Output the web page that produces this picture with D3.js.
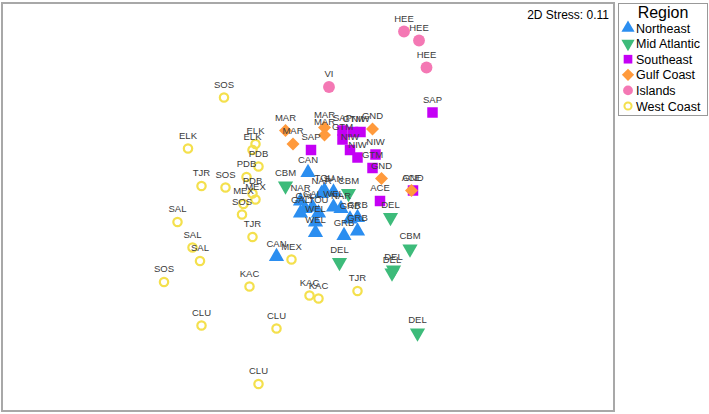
<!DOCTYPE html>
<html lang="en">
<head>
  <meta charset="UTF-8">
  <title>NMDS by Region</title>
  <script src="https://d3js.org/d3.v7.min.js"></script>
  <style>
    body { margin: 0; background: #fff; }
    text { font-family: "Liberation Sans", Arial, sans-serif; }
    .site-label { font-size: 9.5px; fill: #3a3a3a; }
  </style>
</head>
<body>
  <svg width="709" height="414"></svg>

  <script>
    // NMDS site scores, one array per region: [NMDS1, NMDS2, site]
    const northeast = [
      [0.00, 0.23, "CAN"], [-0.21, -0.33, "CAN"], [0.11, 0.11, "TOU"], [0.09, 0.09, "NAR"],
      [0.17, 0.10, "SAN"], [-0.05, 0.04, "NAR"], [-0.02, -0.01, "GAL"], [-0.05, -0.04, "GAL"],
      [0.03, 0.00, "GAL"], [0.07, -0.04, "TOU"], [0.17, 0.00, "WEL"], [0.22, -0.01, "NAR"],
      [0.05, -0.10, "WEL"], [0.05, -0.17, "WEL"], [0.28, -0.08, "GRB"], [0.33, -0.07, "GRB"],
      [0.33, -0.16, "GRB"], [0.24, -0.19, "GRB"]
    ];
    const midAtlantic = [
      [-0.15, 0.14, "CBM"], [0.27, 0.09, "CBM"], [0.55, -0.07, "DEL"], [0.68, -0.28, "CBM"],
      [0.21, -0.37, "DEL"], [0.57, -0.42, "DEL"], [0.56, -0.44, "DEL"], [0.73, -0.84, "DEL"]
    ];
    const southeast = [
      [0.83, 0.63, "SAP"], [0.23, 0.51, "SAP"], [0.23, 0.45, "GTM"], [0.30, 0.50, "GTM"],
      [0.35, 0.50, "NIW"], [0.28, 0.38, "NIW"], [0.33, 0.33, "NIW"], [0.45, 0.35, "NIW"],
      [0.43, 0.26, "GTM"], [0.02, 0.38, "SAP"], [0.48, 0.04, "ACE"], [0.70, 0.11, "GND"]
    ];
    const gulfCoast = [
      [-0.15, 0.51, "MAR"], [-0.10, 0.42, "MAR"], [0.11, 0.53, "MAR"], [0.11, 0.48, "MAR"],
      [0.43, 0.52, "GND"], [0.49, 0.19, "GND"], [0.69, 0.11, "ACE"]
    ];
    const islands = [
      [0.14, 0.80, "VI"], [0.64, 1.17, "HEE"], [0.74, 1.11, "HEE"], [0.79, 0.93, "HEE"]
    ];
    const westCoast = [
      [-0.56, 0.73, "SOS"], [-0.80, 0.39, "ELK"], [-0.35, 0.42, "ELK"], [-0.37, 0.38, "ELK"],
      [-0.33, 0.27, "PDB"], [-0.41, 0.20, "PDB"], [-0.71, 0.14, "TJR"], [-0.55, 0.13, "SOS"],
      [-0.37, 0.09, "PDB"], [-0.35, 0.05, "MEX"], [-0.43, 0.02, "MEX"], [-0.44, -0.05, "SOS"],
      [-0.37, -0.20, "TJR"], [-0.87, -0.10, "SAL"], [-0.77, -0.27, "SAL"], [-0.72, -0.36, "SAL"],
      [-0.96, -0.50, "SOS"], [-0.39, -0.53, "KAC"], [-0.11, -0.35, "MEX"], [0.01, -0.59, "KAC"],
      [0.07, -0.61, "KAC"], [0.33, -0.56, "TJR"], [-0.71, -0.79, "CLU"], [-0.21, -0.81, "CLU"],
      [-0.33, -1.18, "CLU"]
    ];
    const stress = 0.11;

    const regions = [
      { name: "Northeast",    data: northeast,   shape: d3.symbolTriangle, size: 100, color: "#2b8ef0" },
      { name: "Mid Atlantic", data: midAtlantic, shape: d3.symbolTriangle, size: 100, color: "#3dbb7a", flip: true },
      { name: "Southeast",    data: southeast,   shape: d3.symbolSquare,   size: 110, color: "#c400f5" },
      { name: "Gulf Coast",   data: gulfCoast,   shape: d3.symbolSquare,   size: 85,  color: "#ff9a3c", rotate: 45 },
      { name: "Islands",      data: islands,     shape: d3.symbolCircle,   size: 110, color: "#f478b4" },
      { name: "West Coast",   data: westCoast,   shape: d3.symbolCircle,   size: 55,  color: "#f4e04d", open: true }
    ];

    const svg = d3.select("svg");
    const plot = { left: 2, top: 3, right: 614, bottom: 411 };

    const x = d3.scaleLinear().domain([-2.04, 2.04]).range([plot.left, plot.right]);
    const y = d3.scaleLinear().domain([-1.36, 1.36]).range([plot.bottom, plot.top]);

    // plot frame
    svg.append("rect")
      .attr("x", plot.left).attr("y", plot.top)
      .attr("width", plot.right - plot.left).attr("height", plot.bottom - plot.top)
      .attr("fill", "none").attr("stroke", "#a8a8a8").attr("stroke-width", 2);

    function symbolPath(r, size) {
      return d3.symbol().type(r.shape).size(size || r.size)();
    }
    function symbolTransform(r, px, py) {
      let t = `translate(${px},${py})`;
      if (r.flip) t += " scale(1,-1)";
      if (r.rotate) t += ` rotate(${r.rotate})`;
      return t;
    }

    // points
    regions.forEach(r => {
      svg.append("g").selectAll("path")
        .data(r.data)
        .join("path")
          .attr("d", symbolPath(r))
          .attr("transform", d => symbolTransform(r, x(d[0]), y(d[1])))
          .attr("fill", r.open ? "none" : r.color)
          .attr("stroke", r.open ? r.color : "none")
          .attr("stroke-width", r.open ? 2.2 : 0);
    });

    // site labels above points
    regions.forEach(r => {
      svg.append("g").selectAll("text")
        .data(r.data)
        .join("text")
          .attr("class", "site-label")
          .attr("x", d => x(d[0]))
          .attr("y", d => y(d[1]) - 10)
          .attr("text-anchor", "middle")
          .text(d => d[2]);
    });

    svg.append("text")
      .attr("x", 609).attr("y", 19)
      .attr("text-anchor", "end")
      .attr("font-size", 12)
      .text(`2D Stress: ${stress}`);

    // legend
    const legend = svg.append("g");
    legend.append("rect")
      .attr("x", 618.5).attr("y", 3.5).attr("width", 89).attr("height", 112)
      .attr("fill", "#fff").attr("stroke", "#999");
    legend.append("text")
      .attr("x", 663).attr("y", 18)
      .attr("text-anchor", "middle")
      .attr("font-size", 16)
      .text("Region");
    regions.forEach((r, i) => {
      const ly = 28 + i * 15.6;
      legend.append("path")
        .attr("d", symbolPath(r, r.open ? 40 : 75))
        .attr("transform", symbolTransform(r, 628, ly))
        .attr("fill", r.open ? "none" : r.color)
        .attr("stroke", r.open ? r.color : "none")
        .attr("stroke-width", r.open ? 2 : 0);
      legend.append("text")
        .attr("x", 636).attr("y", ly + 4.5)
        .attr("font-size", 12.5)
        .text(r.name);
    });
  </script>
</body>
</html>
